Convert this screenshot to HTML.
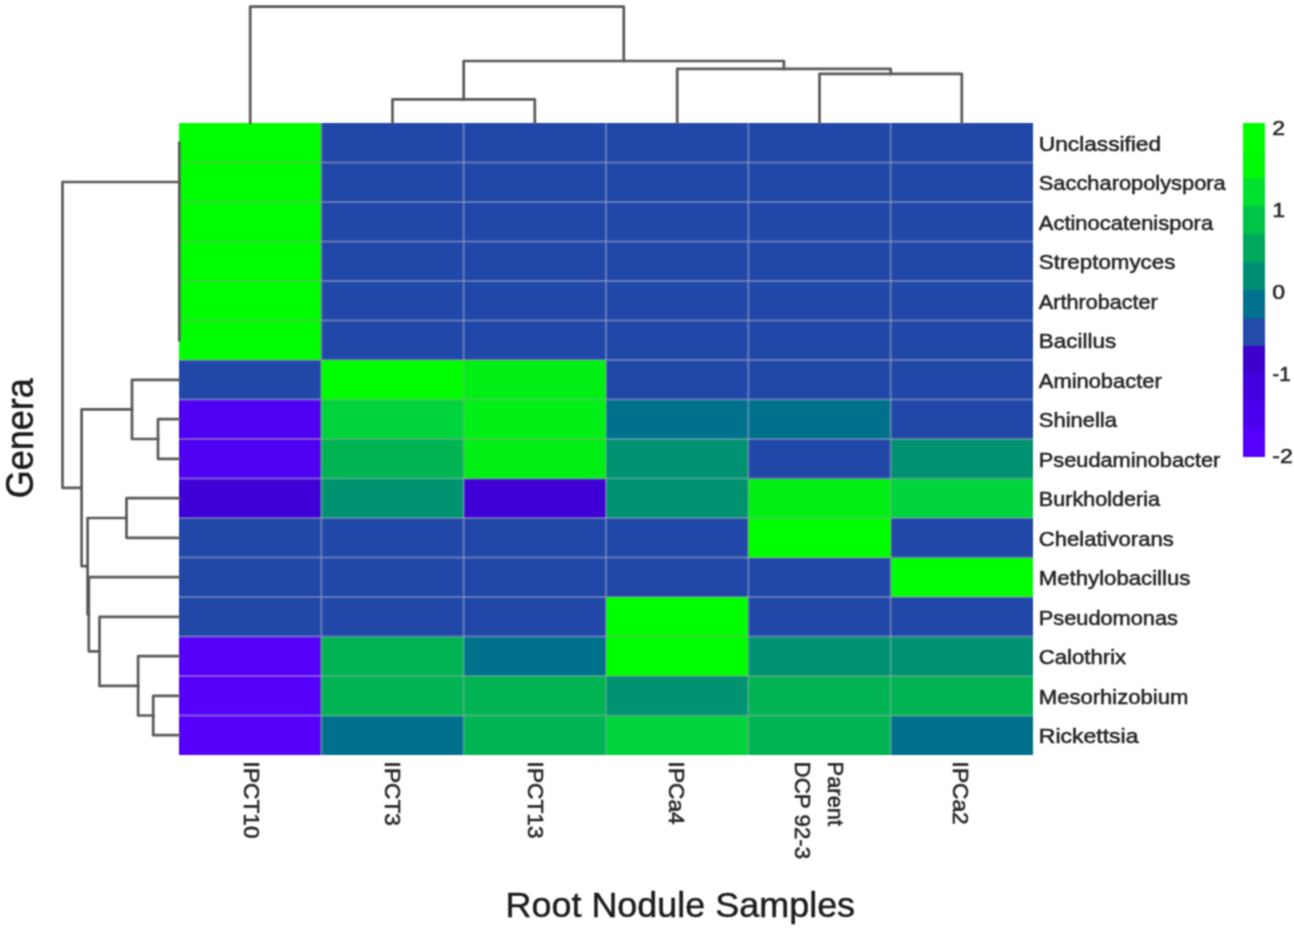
<!DOCTYPE html>
<html lang="en"><head><meta charset="utf-8"><title>Heatmap of genera in root nodule samples</title>
<style>html,body{margin:0;padding:0;background:#fff}svg{display:block}text{font-family:"Liberation Sans",sans-serif;fill:#262626}.lab{font-size:20.6px;stroke:#262626;stroke-width:.55px}.den{fill:none;stroke:#5a5a5a;stroke-width:2.7;stroke-linecap:square;stroke-linejoin:round}.grid{stroke:#999999;stroke-width:2;fill:none}.gl{stroke-opacity:.4;mix-blend-mode:luminosity}.gn{stroke-opacity:.36}.ttl{font-size:33.4px;fill:#1c1c1c;stroke:#1c1c1c;stroke-width:.45px}</style></head><body>
<svg width="1294" height="928" viewBox="0 0 1294 928">
<defs><filter id="soft" color-interpolation-filters="sRGB" x="0" y="0" width="1294" height="928" filterUnits="userSpaceOnUse"><feConvolveMatrix order="3" kernelMatrix="1 2 1 2 4 2 1 2 1" divisor="16" edgeMode="duplicate" preserveAlpha="true"/></filter></defs>
<rect width="1294" height="928" fill="#ffffff"/>
<g filter="url(#soft)"><rect width="1294" height="928" fill="#ffffff"/>
<g shape-rendering="crispEdges">
<rect x="179.00" y="123.00" width="142.63" height="39.80" fill="#00ff00"/>
<rect x="321.33" y="123.00" width="142.63" height="39.80" fill="#2148a8"/>
<rect x="463.67" y="123.00" width="142.63" height="39.80" fill="#2148a8"/>
<rect x="606.00" y="123.00" width="142.63" height="39.80" fill="#2148a8"/>
<rect x="748.33" y="123.00" width="142.63" height="39.80" fill="#2148a8"/>
<rect x="890.67" y="123.00" width="142.63" height="39.80" fill="#2148a8"/>
<rect x="179.00" y="162.50" width="142.63" height="39.80" fill="#00ff00"/>
<rect x="321.33" y="162.50" width="142.63" height="39.80" fill="#2148a8"/>
<rect x="463.67" y="162.50" width="142.63" height="39.80" fill="#2148a8"/>
<rect x="606.00" y="162.50" width="142.63" height="39.80" fill="#2148a8"/>
<rect x="748.33" y="162.50" width="142.63" height="39.80" fill="#2148a8"/>
<rect x="890.67" y="162.50" width="142.63" height="39.80" fill="#2148a8"/>
<rect x="179.00" y="202.00" width="142.63" height="39.80" fill="#00ff00"/>
<rect x="321.33" y="202.00" width="142.63" height="39.80" fill="#2148a8"/>
<rect x="463.67" y="202.00" width="142.63" height="39.80" fill="#2148a8"/>
<rect x="606.00" y="202.00" width="142.63" height="39.80" fill="#2148a8"/>
<rect x="748.33" y="202.00" width="142.63" height="39.80" fill="#2148a8"/>
<rect x="890.67" y="202.00" width="142.63" height="39.80" fill="#2148a8"/>
<rect x="179.00" y="241.50" width="142.63" height="39.80" fill="#00ff00"/>
<rect x="321.33" y="241.50" width="142.63" height="39.80" fill="#2148a8"/>
<rect x="463.67" y="241.50" width="142.63" height="39.80" fill="#2148a8"/>
<rect x="606.00" y="241.50" width="142.63" height="39.80" fill="#2148a8"/>
<rect x="748.33" y="241.50" width="142.63" height="39.80" fill="#2148a8"/>
<rect x="890.67" y="241.50" width="142.63" height="39.80" fill="#2148a8"/>
<rect x="179.00" y="281.00" width="142.63" height="39.80" fill="#00ff00"/>
<rect x="321.33" y="281.00" width="142.63" height="39.80" fill="#2148a8"/>
<rect x="463.67" y="281.00" width="142.63" height="39.80" fill="#2148a8"/>
<rect x="606.00" y="281.00" width="142.63" height="39.80" fill="#2148a8"/>
<rect x="748.33" y="281.00" width="142.63" height="39.80" fill="#2148a8"/>
<rect x="890.67" y="281.00" width="142.63" height="39.80" fill="#2148a8"/>
<rect x="179.00" y="320.50" width="142.63" height="39.80" fill="#00ff00"/>
<rect x="321.33" y="320.50" width="142.63" height="39.80" fill="#2148a8"/>
<rect x="463.67" y="320.50" width="142.63" height="39.80" fill="#2148a8"/>
<rect x="606.00" y="320.50" width="142.63" height="39.80" fill="#2148a8"/>
<rect x="748.33" y="320.50" width="142.63" height="39.80" fill="#2148a8"/>
<rect x="890.67" y="320.50" width="142.63" height="39.80" fill="#2148a8"/>
<rect x="179.00" y="360.00" width="142.63" height="39.80" fill="#2148a8"/>
<rect x="321.33" y="360.00" width="142.63" height="39.80" fill="#00ff00"/>
<rect x="463.67" y="360.00" width="142.63" height="39.80" fill="#00f016"/>
<rect x="606.00" y="360.00" width="142.63" height="39.80" fill="#2148a8"/>
<rect x="748.33" y="360.00" width="142.63" height="39.80" fill="#2148a8"/>
<rect x="890.67" y="360.00" width="142.63" height="39.80" fill="#2148a8"/>
<rect x="179.00" y="399.50" width="142.63" height="39.80" fill="#4f00f2"/>
<rect x="321.33" y="399.50" width="142.63" height="39.80" fill="#00d43c"/>
<rect x="463.67" y="399.50" width="142.63" height="39.80" fill="#00f016"/>
<rect x="606.00" y="399.50" width="142.63" height="39.80" fill="#00718d"/>
<rect x="748.33" y="399.50" width="142.63" height="39.80" fill="#00718d"/>
<rect x="890.67" y="399.50" width="142.63" height="39.80" fill="#2148a8"/>
<rect x="179.00" y="439.00" width="142.63" height="39.80" fill="#4f00f2"/>
<rect x="321.33" y="439.00" width="142.63" height="39.80" fill="#00b454"/>
<rect x="463.67" y="439.00" width="142.63" height="39.80" fill="#00f016"/>
<rect x="606.00" y="439.00" width="142.63" height="39.80" fill="#009271"/>
<rect x="748.33" y="439.00" width="142.63" height="39.80" fill="#2148a8"/>
<rect x="890.67" y="439.00" width="142.63" height="39.80" fill="#009271"/>
<rect x="179.00" y="478.50" width="142.63" height="39.80" fill="#3e00d6"/>
<rect x="321.33" y="478.50" width="142.63" height="39.80" fill="#009271"/>
<rect x="463.67" y="478.50" width="142.63" height="39.80" fill="#3e00d6"/>
<rect x="606.00" y="478.50" width="142.63" height="39.80" fill="#009271"/>
<rect x="748.33" y="478.50" width="142.63" height="39.80" fill="#00f016"/>
<rect x="890.67" y="478.50" width="142.63" height="39.80" fill="#00d43c"/>
<rect x="179.00" y="518.00" width="142.63" height="39.80" fill="#2148a8"/>
<rect x="321.33" y="518.00" width="142.63" height="39.80" fill="#2148a8"/>
<rect x="463.67" y="518.00" width="142.63" height="39.80" fill="#2148a8"/>
<rect x="606.00" y="518.00" width="142.63" height="39.80" fill="#2148a8"/>
<rect x="748.33" y="518.00" width="142.63" height="39.80" fill="#00ff00"/>
<rect x="890.67" y="518.00" width="142.63" height="39.80" fill="#2148a8"/>
<rect x="179.00" y="557.50" width="142.63" height="39.80" fill="#2148a8"/>
<rect x="321.33" y="557.50" width="142.63" height="39.80" fill="#2148a8"/>
<rect x="463.67" y="557.50" width="142.63" height="39.80" fill="#2148a8"/>
<rect x="606.00" y="557.50" width="142.63" height="39.80" fill="#2148a8"/>
<rect x="748.33" y="557.50" width="142.63" height="39.80" fill="#2148a8"/>
<rect x="890.67" y="557.50" width="142.63" height="39.80" fill="#00ff00"/>
<rect x="179.00" y="597.00" width="142.63" height="39.80" fill="#2148a8"/>
<rect x="321.33" y="597.00" width="142.63" height="39.80" fill="#2148a8"/>
<rect x="463.67" y="597.00" width="142.63" height="39.80" fill="#2148a8"/>
<rect x="606.00" y="597.00" width="142.63" height="39.80" fill="#00ff00"/>
<rect x="748.33" y="597.00" width="142.63" height="39.80" fill="#2148a8"/>
<rect x="890.67" y="597.00" width="142.63" height="39.80" fill="#2148a8"/>
<rect x="179.00" y="636.50" width="142.63" height="39.80" fill="#5600fc"/>
<rect x="321.33" y="636.50" width="142.63" height="39.80" fill="#00b454"/>
<rect x="463.67" y="636.50" width="142.63" height="39.80" fill="#00718d"/>
<rect x="606.00" y="636.50" width="142.63" height="39.80" fill="#00ff00"/>
<rect x="748.33" y="636.50" width="142.63" height="39.80" fill="#009271"/>
<rect x="890.67" y="636.50" width="142.63" height="39.80" fill="#009271"/>
<rect x="179.00" y="676.00" width="142.63" height="39.80" fill="#5600fc"/>
<rect x="321.33" y="676.00" width="142.63" height="39.80" fill="#00b454"/>
<rect x="463.67" y="676.00" width="142.63" height="39.80" fill="#00b454"/>
<rect x="606.00" y="676.00" width="142.63" height="39.80" fill="#009271"/>
<rect x="748.33" y="676.00" width="142.63" height="39.80" fill="#00b454"/>
<rect x="890.67" y="676.00" width="142.63" height="39.80" fill="#00b454"/>
<rect x="179.00" y="715.50" width="142.63" height="39.80" fill="#5600fc"/>
<rect x="321.33" y="715.50" width="142.63" height="39.80" fill="#00718d"/>
<rect x="463.67" y="715.50" width="142.63" height="39.80" fill="#00b454"/>
<rect x="606.00" y="715.50" width="142.63" height="39.80" fill="#00d43c"/>
<rect x="748.33" y="715.50" width="142.63" height="39.80" fill="#00b454"/>
<rect x="890.67" y="715.50" width="142.63" height="39.80" fill="#00718d"/>
</g>
<g class="grid gl">
<line x1="321.33" y1="123.00" x2="321.33" y2="755.00"/>
<line x1="463.67" y1="123.00" x2="463.67" y2="755.00"/>
<line x1="606.00" y1="123.00" x2="606.00" y2="755.00"/>
<line x1="748.33" y1="123.00" x2="748.33" y2="755.00"/>
<line x1="890.67" y1="123.00" x2="890.67" y2="755.00"/>
<line x1="179.00" y1="162.50" x2="1033.00" y2="162.50"/>
<line x1="179.00" y1="202.00" x2="1033.00" y2="202.00"/>
<line x1="179.00" y1="241.50" x2="1033.00" y2="241.50"/>
<line x1="179.00" y1="281.00" x2="1033.00" y2="281.00"/>
<line x1="179.00" y1="320.50" x2="1033.00" y2="320.50"/>
<line x1="179.00" y1="360.00" x2="1033.00" y2="360.00"/>
<line x1="179.00" y1="399.50" x2="1033.00" y2="399.50"/>
<line x1="179.00" y1="439.00" x2="1033.00" y2="439.00"/>
<line x1="179.00" y1="478.50" x2="1033.00" y2="478.50"/>
<line x1="179.00" y1="518.00" x2="1033.00" y2="518.00"/>
<line x1="179.00" y1="557.50" x2="1033.00" y2="557.50"/>
<line x1="179.00" y1="597.00" x2="1033.00" y2="597.00"/>
<line x1="179.00" y1="636.50" x2="1033.00" y2="636.50"/>
<line x1="179.00" y1="676.00" x2="1033.00" y2="676.00"/>
<line x1="179.00" y1="715.50" x2="1033.00" y2="715.50"/>
</g>
<g class="grid gn">
<line x1="321.33" y1="123.00" x2="321.33" y2="755.00"/>
<line x1="463.67" y1="123.00" x2="463.67" y2="755.00"/>
<line x1="606.00" y1="123.00" x2="606.00" y2="755.00"/>
<line x1="748.33" y1="123.00" x2="748.33" y2="755.00"/>
<line x1="890.67" y1="123.00" x2="890.67" y2="755.00"/>
<line x1="179.00" y1="162.50" x2="1033.00" y2="162.50"/>
<line x1="179.00" y1="202.00" x2="1033.00" y2="202.00"/>
<line x1="179.00" y1="241.50" x2="1033.00" y2="241.50"/>
<line x1="179.00" y1="281.00" x2="1033.00" y2="281.00"/>
<line x1="179.00" y1="320.50" x2="1033.00" y2="320.50"/>
<line x1="179.00" y1="360.00" x2="1033.00" y2="360.00"/>
<line x1="179.00" y1="399.50" x2="1033.00" y2="399.50"/>
<line x1="179.00" y1="439.00" x2="1033.00" y2="439.00"/>
<line x1="179.00" y1="478.50" x2="1033.00" y2="478.50"/>
<line x1="179.00" y1="518.00" x2="1033.00" y2="518.00"/>
<line x1="179.00" y1="557.50" x2="1033.00" y2="557.50"/>
<line x1="179.00" y1="597.00" x2="1033.00" y2="597.00"/>
<line x1="179.00" y1="636.50" x2="1033.00" y2="636.50"/>
<line x1="179.00" y1="676.00" x2="1033.00" y2="676.00"/>
<line x1="179.00" y1="715.50" x2="1033.00" y2="715.50"/>
</g>
<polyline class="den" points="392.5,123.0 392.5,99.3 534.8,99.3 534.8,123.0"/>
<polyline class="den" points="819.5,123.0 819.5,73.8 961.8,73.8 961.8,123.0"/>
<polyline class="den" points="677.2,123.0 677.2,68.8 890.7,68.8 890.7,73.8"/>
<polyline class="den" points="463.7,99.3 463.7,61.0 783.9,61.0 783.9,68.8"/>
<polyline class="den" points="250.2,123.0 250.2,6.6 623.8,6.6 623.8,61.0"/>
<polyline class="den" points="179.3,142.8 179.3,340.2"/>
<polyline class="den" points="179.0,695.8 153.2,695.8 153.2,735.2 179.0,735.2"/>
<polyline class="den" points="179.0,656.2 138.1,656.2 138.1,715.5 153.2,715.5"/>
<polyline class="den" points="179.0,616.8 99.5,616.8 99.5,685.9 138.1,685.9"/>
<polyline class="den" points="179.0,577.2 88.8,577.2 88.8,651.3 99.5,651.3"/>
<polyline class="den" points="179.0,498.2 126.5,498.2 126.5,537.8 179.0,537.8"/>
<polyline class="den" points="126.5,518.0 87.6,518.0 87.6,614.3 88.8,614.3"/>
<polyline class="den" points="179.0,419.2 158.0,419.2 158.0,458.8 179.0,458.8"/>
<polyline class="den" points="179.0,379.8 132.0,379.8 132.0,439.0 158.0,439.0"/>
<polyline class="den" points="132.0,409.4 81.6,409.4 81.6,566.1 87.6,566.1"/>
<polyline class="den" points="179.0,182.0 62.5,182.0 62.5,487.8 81.6,487.8"/>
<text class="lab" transform="translate(1038.8,150.7) scale(1.102,1)">Unclassified</text>
<text class="lab" transform="translate(1038.8,190.2) scale(1.061,1)">Saccharopolyspora</text>
<text class="lab" transform="translate(1038.8,229.7) scale(1.065,1)">Actinocatenispora</text>
<text class="lab" transform="translate(1038.8,269.1) scale(1.085,1)">Streptomyces</text>
<text class="lab" transform="translate(1038.8,308.6) scale(1.050,1)">Arthrobacter</text>
<text class="lab" transform="translate(1038.8,348.1) scale(1.090,1)">Bacillus</text>
<text class="lab" transform="translate(1038.8,387.6) scale(1.063,1)">Aminobacter</text>
<text class="lab" transform="translate(1038.8,427.1) scale(1.066,1)">Shinella</text>
<text class="lab" transform="translate(1038.8,466.6) scale(1.057,1)">Pseudaminobacter</text>
<text class="lab" transform="translate(1038.8,506.1) scale(1.048,1)">Burkholderia</text>
<text class="lab" transform="translate(1038.8,545.6) scale(1.072,1)">Chelativorans</text>
<text class="lab" transform="translate(1038.8,585.1) scale(1.077,1)">Methylobacillus</text>
<text class="lab" transform="translate(1038.8,624.6) scale(1.057,1)">Pseudomonas</text>
<text class="lab" transform="translate(1038.8,664.1) scale(1.075,1)">Calothrix</text>
<text class="lab" transform="translate(1038.8,703.6) scale(1.071,1)">Mesorhizobium</text>
<text class="lab" transform="translate(1038.8,743.1) scale(1.118,1)">Rickettsia</text>
<text class="lab" style="font-size:21.4px" transform="translate(243.8,761.6) rotate(90) scale(1.060,1.04)">IPCT10</text>
<text class="lab" style="font-size:21.4px" transform="translate(385.0,761.6) rotate(90) scale(1.060,1.04)">IPCT3</text>
<text class="lab" style="font-size:21.4px" transform="translate(528.3,761.6) rotate(90) scale(1.060,1.04)">IPCT13</text>
<text class="lab" style="font-size:21.4px" transform="translate(669.4,761.6) rotate(90) scale(1.060,1.04)">IPCa4</text>
<text class="lab" style="font-size:21.4px" transform="translate(828.0,761.6) rotate(90) scale(1.023,1.04)">Parent</text>
<text class="lab" style="font-size:21.4px" transform="translate(794.6,761.6) rotate(90) scale(1.044,1.04)">DCP 92-3</text>
<text class="lab" style="font-size:21.4px" transform="translate(953.4,761.6) rotate(90) scale(1.060,1.04)">IPCa2</text>
<text class="ttl" style="font-size:34.3px" transform="translate(505.5,916.5) scale(1.048,1)">Root Nodule Samples</text>
<text class="ttl" style="font-size:36px" transform="translate(33.4,498.3) rotate(-90) scale(1.0,1.07)">Genera</text>
<g shape-rendering="crispEdges">
<rect x="1242.8" y="122.70" width="22.0" height="28.17" fill="#00ff00"/>
<rect x="1242.8" y="150.57" width="22.0" height="28.17" fill="#00fa08"/>
<rect x="1242.8" y="178.43" width="22.0" height="28.17" fill="#00e02e"/>
<rect x="1242.8" y="206.30" width="22.0" height="28.17" fill="#00c446"/>
<rect x="1242.8" y="234.17" width="22.0" height="28.17" fill="#00a85e"/>
<rect x="1242.8" y="262.03" width="22.0" height="28.17" fill="#008e76"/>
<rect x="1242.8" y="289.90" width="22.0" height="28.17" fill="#00718e"/>
<rect x="1242.8" y="317.77" width="22.0" height="28.17" fill="#234baa"/>
<rect x="1242.8" y="345.63" width="22.0" height="28.17" fill="#3c00ce"/>
<rect x="1242.8" y="373.50" width="22.0" height="28.17" fill="#4400de"/>
<rect x="1242.8" y="401.37" width="22.0" height="28.17" fill="#4d00ee"/>
<rect x="1242.8" y="429.23" width="22.0" height="28.17" fill="#5600fe"/>
</g>
<text class="lab" style="font-size:20.6px" transform="translate(1272.3,134.7) scale(1.12,1)">2</text>
<text class="lab" style="font-size:20.6px" transform="translate(1272.3,216.8) scale(1.12,1)">1</text>
<text class="lab" style="font-size:20.6px" transform="translate(1272.3,298.9) scale(1.12,1)">0</text>
<text class="lab" style="font-size:20.6px" transform="translate(1272.3,380.9) scale(1.00,1)">-1</text>
<text class="lab" style="font-size:20.6px" transform="translate(1272.3,463.0) scale(1.12,1)">-2</text>
</g></svg></body></html>
